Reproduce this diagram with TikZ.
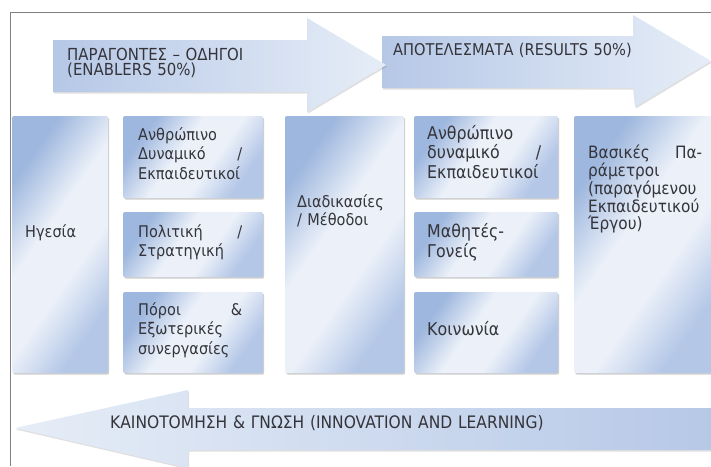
\documentclass[tikz,border=0pt]{standalone}
\usepackage{fontspec}
\setmainfont{DejaVu Sans}[FakeStretch=0.9]
\usetikzlibrary{shadows}

\definecolor{frameln}{RGB}{128,128,128}
\definecolor{blueA}{RGB}{158,183,222}
\definecolor{blueM}{RGB}{180,199,231}
\definecolor{blueL}{RGB}{236,241,249}
\definecolor{arrowA}{RGB}{182,200,231}
\definecolor{arrowB}{RGB}{230,237,247}
\definecolor{txt}{RGB}{52,52,58}

% diagonal panel gradient: blue edge, wide pale band, softer blue edge
\pgfdeclarehorizontalshading{panelshade}{100bp}{%
  color(0bp)=(blueA); color(27bp)=(blueA); color(44bp)=(blueL);
  color(58bp)=(blueL); color(73bp)=(blueM); color(100bp)=(blueM)}

\tikzset{
  frame/.style={draw=frameln, line width=0.9pt},
  panel/.style={rounded corners=2pt, draw=none, inner sep=0pt,
    shading=panelshade, shading angle=-35,
    drop shadow={shadow xshift=1.2pt, shadow yshift=-1.6pt, opacity=0.35, fill=black!55}},
  bigarrow/.style={draw=none,
    drop shadow={shadow xshift=1pt, shadow yshift=-1.5pt, opacity=0.25, fill=black!50}},
  boxtext/.style={anchor=base west, inner sep=0pt, align=left, text=txt,
    text width=115pt, font=\fontsize{16.1}{19.5}\selectfont},
  headtext/.style={anchor=base west, inner sep=0pt, align=left, text=txt,
    text width=450pt, font=\fontsize{16.6}{15.5}\selectfont}
}

\begin{document}
\begin{tikzpicture}[x=1pt,y=-1pt]
\useasboundingbox (0,0) rectangle (711,466);
\fill[white] (0,0) rectangle (711,466);

% frame
\draw[frame] (711,12) -- (10,12) -- (10,466);

% results arrow (behind), then enablers arrow on top
\path[bigarrow, left color=arrowA, right color=arrowB]
  (382,36) -- (633,36) -- (633,15) -- (711,61) -- (635,107) -- (633,88) -- (382,88) -- cycle;
\path[bigarrow, left color=arrowA, right color=arrowB]
  (53,40) -- (307,40) -- (307,18) -- (386,65) -- (307,112) -- (307,92) -- (53,92) -- cycle;
% innovation arrow pointing back
\path[bigarrow, left color=arrowB, right color=arrowA]
  (15,428) -- (188,390) -- (188,408) -- (716,408) -- (716,450) -- (188,450) -- (188,468) -- cycle;

\node[headtext, text width=230pt] (enablers) at (67,60) {ΠΑΡΑΓΟΝΤΕΣ – ΟΔΗΓΟΙ\\(ENABLERS 50\%)};
\node[headtext, text width=300pt, font=\fontsize{16.2}{15}\selectfont] (results) at (393,55) {ΑΠΟΤΕΛΕΣΜΑΤΑ (RESULTS 50\%)};
\node[headtext, font=\fontsize{17.2}{15}\selectfont] (innov) at (110,428) {ΚΑΙΝΟΤΟΜΗΣΗ \& ΓΝΩΣΗ (INNOVATION AND LEARNING)};

% panels
\node[panel, minimum width=96pt, minimum height=257pt] (lead) at (60,244.5) {};
\node[panel, minimum width=140pt, minimum height=82pt] (hr1) at (193,157) {};
\node[panel, minimum width=140pt, minimum height=65pt] (policy) at (193,244.5) {};
\node[panel, minimum width=140pt, minimum height=81pt] (resources) at (193,332.5) {};
\node[panel, minimum width=119pt, minimum height=257pt] (process) at (344.5,244.5) {};
\node[panel, minimum width=144pt, minimum height=82pt] (hr2) at (486,157) {};
\node[panel, minimum width=144pt, minimum height=65pt] (pupils) at (486,244.5) {};
\node[panel, minimum width=144pt, minimum height=81pt] (society) at (486,332.5) {};
\node[panel, minimum width=142pt, minimum height=257pt] (key) at (645,244.5) {};

% panel texts
\node[boxtext, text width=80pt] (t-lead) at (25,237) {Ηγεσία};
\node[boxtext, text width=104pt] (t-hr1) at (138,140) {Ανθρώπινο\\Δυναμικό\hfill/\\Εκπαιδευτικοί};
\node[boxtext, text width=104pt] (t-policy) at (138,237) {Πολιτική\hfill/\\Στρατηγική};
\node[boxtext, text width=104pt] (t-resources) at (138,315) {Πόροι\hfill\&\\Εξωτερικές\\συνεργασίες};
\node[boxtext, text width=100pt, font=\fontsize{16.1}{18}\selectfont] (t-process) at (297,207) {Διαδικασίες\\/ Μέθοδοι};
\node[boxtext, text width=114pt, font=\fontsize{17.6}{19.5}\selectfont] (t-hr2) at (427,139) {Ανθρώπινο\\δυναμικό\hfill/\\Εκπαιδευτικοί};
\node[boxtext, font=\fontsize{17.6}{20}\selectfont] (t-pupils) at (427,237) {Μαθητές-\\Γονείς};
\node[boxtext, font=\fontsize{17.6}{20}\selectfont] (t-society) at (427,335) {Κοινωνία};
\node[boxtext, text width=114pt, font=\fontsize{17}{16.8}\selectfont] (t-key) at (588,158)
  {Βασικές\hfill Πα-\\ράμετροι\\(παραγόμενου\\Εκπαιδευτικού\\Έργου)};
\end{tikzpicture}
\end{document}
